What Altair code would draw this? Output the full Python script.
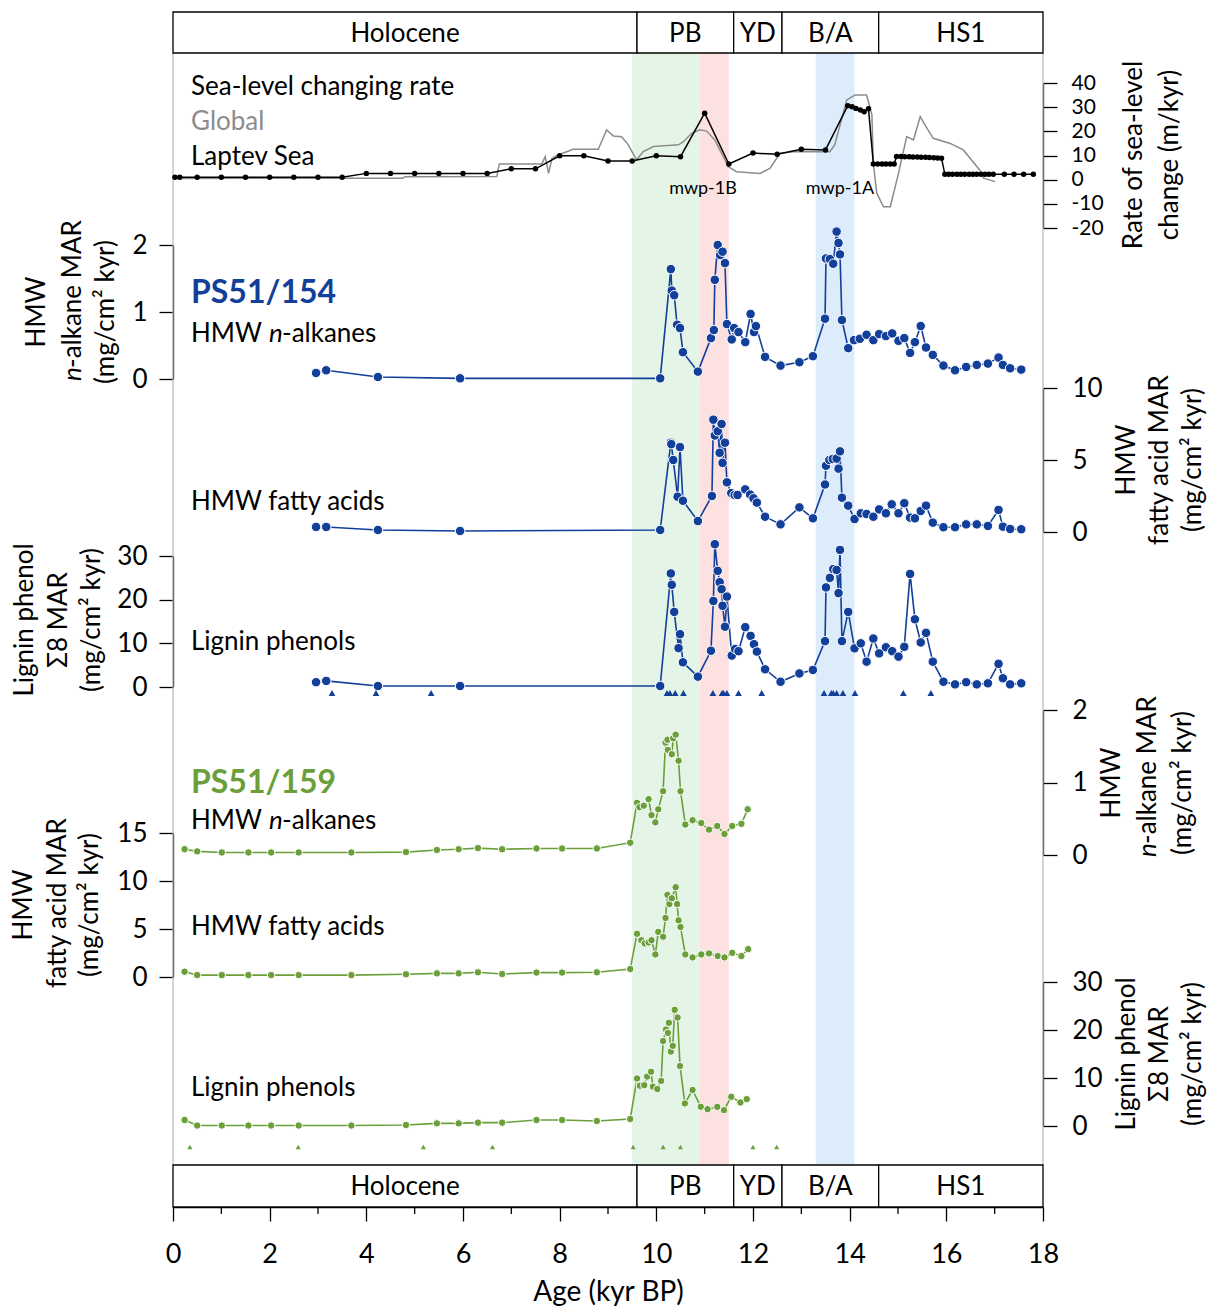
import altair as alt
import pandas as pd

# ---------------- data ----------------
strat_names = ["Holocene", "PB", "YD", "B/A", "HS1"]
strat_start = [0, 9.6, 11.6, 12.6, 14.6]
strat_end = [9.6, 11.6, 12.6, 14.6, 18]

band_names = ["PB", "mwp-1B", "mwp-1A"]
band_start = [9.5, 10.9, 13.3]
band_end = [10.9, 11.5, 14.1]
band_colors = ["#e4f5e7", "#fde0e0", "#dcecfb"]

global_age = [0, 4.75, 4.8, 6.7, 6.75, 7.63, 7.70, 7.77, 7.84, 7.94, 8.28, 8.8, 8.97, 9.11, 9.28, 9.42,
              9.59, 9.73, 9.94, 10.46, 10.56, 10.73, 10.90, 11.04, 11.21, 11.49, 11.66, 12.15, 12.35,
              12.56, 12.83, 13.59, 13.69, 13.94, 14.11, 14.35, 14.46, 14.49, 14.56, 14.70, 14.84, 15.01,
              15.18, 15.32, 15.46, 15.56, 15.73, 16.08, 16.35, 16.69, 16.77, 17.01]
global_rate = [0.5, 0.6, 1.2, 1.3, 6.5, 6.5, 9.5, 2.6, 8.8, 10.0, 12.6, 12.6, 20.6, 18.1, 17.8, 14.4,
               8.2, 11.6, 13.7, 14.4, 15.7, 19.2, 20.6, 20.1, 16.4, 5.4, 3.3, 2.6, 4.7,
               10.9, 11.6, 11.6, 14.4, 33.0, 35.0, 35.0, 26.8, 6.8, -5.6, -11.2, -11.2, 2.6,
               17.8, 16.4, 26.1, 22.6, 17.1, 15.0, 12.3, 4.0, 0.6, -0.8]

laptev_age = [0.04, 0.14, 0.5, 1.0, 1.5, 2.0, 2.5, 3.0, 3.5, 4.0, 4.5, 5.0, 5.5, 6.0, 6.5, 7.0, 7.5,
              8.0, 8.5, 9.0, 9.5, 10.0, 10.5, 11.0, 11.5, 12.0, 12.5, 13.0, 13.5, 13.96, 14.05, 14.13,
              14.22, 14.30, 14.39, 14.49, 14.58, 14.67, 14.75, 14.84, 14.92, 14.97, 15.06, 15.14, 15.23,
              15.31, 15.40, 15.48, 15.57, 15.65, 15.74, 15.82, 15.90, 15.97, 16.05, 16.13, 16.22, 16.30,
              16.38, 16.47, 16.55, 16.63, 16.72, 16.80, 16.88, 16.97, 17.2, 17.4, 17.6, 17.8]
laptev_rate = [1.0, 1.0, 1.0, 1.0, 1.0, 1.0, 1.0, 1.0, 1.0, 2.6, 2.6, 2.6, 2.6, 2.6, 2.6, 4.5, 4.5,
               9.9, 9.9, 7.7, 7.7, 9.9, 9.5, 27.5, 6.5, 11.0, 10.5, 12.6, 12.3, 30.6, 30.2, 29.5,
               28.8, 28.1, 29.3, 6.5, 6.5, 6.5, 6.5, 6.5, 6.5, 9.6, 9.6, 9.5, 9.5,
               9.4, 9.4, 9.3, 9.3, 9.2, 9.1, 9.0, 8.9, 2.2, 2.2, 2.2, 2.2, 2.2,
               2.2, 2.2, 2.2, 2.2, 2.2, 2.2, 2.2, 2.2, 2.2, 2.2, 2.2, 2.2]

# PS51/154
a154_nalk = [2.96, 3.17, 4.24, 5.94, 10.08, 10.30, 10.32, 10.37, 10.43, 10.49, 10.55, 10.86, 11.13,
             11.19, 11.21, 11.27, 11.32, 11.37, 11.42, 11.46, 11.56, 11.61, 11.70, 11.84, 11.95, 12.02,
             12.06, 12.25, 12.57, 12.96, 13.24, 13.49, 13.51, 13.59, 13.66, 13.73, 13.77, 13.80, 13.84,
             13.97, 14.09, 14.21, 14.35, 14.49, 14.61, 14.75, 14.88, 15.01, 15.13, 15.25, 15.35, 15.47,
             15.58, 15.72, 15.94, 16.18, 16.41, 16.63, 16.86, 17.08, 17.17, 17.32, 17.55]
v154_nalk = [0.09, 0.13, 0.03, 0.01, 0.01, 1.64, 1.32, 1.25, 0.81, 0.76, 0.40, 0.11, 0.61,
             0.73, 1.48, 2.00, 1.85, 1.90, 1.73, 0.82, 0.59, 0.76, 0.70, 0.55, 0.97, 0.70,
             0.79, 0.33, 0.20, 0.25, 0.34, 0.90, 1.80, 1.79, 1.72, 2.20, 2.03, 1.86, 0.88,
             0.46, 0.58, 0.60, 0.66, 0.58, 0.67, 0.64, 0.68, 0.57, 0.61, 0.39, 0.55, 0.79,
             0.47, 0.36, 0.20, 0.13, 0.18, 0.21, 0.23, 0.32, 0.21, 0.16, 0.14]

a154_fa = [2.96, 3.17, 4.24, 5.94, 10.08, 10.30, 10.31, 10.35, 10.44, 10.49, 10.55, 10.86, 11.15,
           11.18, 11.21, 11.27, 11.31, 11.35, 11.37, 11.42, 11.46, 11.55, 11.62, 11.68, 11.84, 11.94,
           12.01, 12.08, 12.25, 12.57, 12.96, 13.24, 13.49, 13.51, 13.58, 13.65, 13.73, 13.77, 13.80,
           13.84, 13.97, 14.10, 14.23, 14.35, 14.49, 14.61, 14.75, 14.87, 15.01, 15.13, 15.25, 15.35,
           15.47, 15.58, 15.72, 15.94, 16.18, 16.41, 16.63, 16.86, 17.08, 17.17, 17.32, 17.55]
v154_fa = [0.35, 0.35, 0.14, 0.07, 0.14, 6.2, 6.1, 5.0, 2.45, 5.9, 2.17, 0.76, 2.5,
           7.8, 6.7, 7.0, 5.5, 7.5, 4.8, 6.2, 3.45, 2.7, 2.57, 2.57, 2.96, 2.6,
           2.34, 2.04, 1.06, 0.53, 1.71, 0.95, 3.3, 4.6, 5.0, 5.07, 5.1, 4.4, 5.6,
           2.38, 1.83, 0.9, 1.3, 1.25, 1.06, 1.57, 1.3, 1.92, 1.3, 2.0, 1.0, 0.95,
           1.46, 1.83, 0.65, 0.33, 0.33, 0.53, 0.53, 0.42, 1.53, 0.37, 0.21, 0.19]

a154_lig = [2.96, 3.17, 4.24, 5.94, 10.08, 10.30, 10.32, 10.37, 10.46, 10.49, 10.55, 10.86, 11.13,
            11.18, 11.21, 11.27, 11.31, 11.35, 11.37, 11.42, 11.46, 11.56, 11.63, 11.70, 11.84, 11.95,
            12.02, 12.08, 12.25, 12.57, 12.96, 13.24, 13.49, 13.51, 13.59, 13.66, 13.73, 13.77, 13.80,
            13.84, 13.97, 14.10, 14.23, 14.35, 14.49, 14.61, 14.75, 14.88, 15.01, 15.13, 15.25, 15.35,
            15.47, 15.58, 15.72, 15.94, 16.18, 16.41, 16.63, 16.86, 17.08, 17.17, 17.32, 17.55]
v154_lig = [1.1, 1.4, 0.23, 0.23, 0.23, 26.0, 23.4, 17.2, 8.9, 12.1, 5.65, 2.37, 8.3,
            19.7, 32.7, 26.6, 24.0, 22.4, 18.6, 13.8, 20.7, 7.2, 8.7, 8.2, 13.7, 11.7,
            9.8, 8.1, 4.05, 1.2, 3.1, 3.9, 10.5, 22.8, 25.0, 27.0, 26.8, 21.5, 31.4,
            10.5, 17.2, 8.85, 10.0, 5.8, 11.1, 7.7, 9.1, 8.2, 6.95, 9.2, 25.9, 15.5,
            10.2, 12.4, 5.8, 1.2, 0.6, 1.1, 0.6, 0.85, 5.3, 2.0, 0.6, 0.85]

tri154 = [3.29, 4.2, 5.34, 10.22, 10.28, 10.39, 10.56, 11.17, 11.36, 11.39, 11.46, 11.70, 12.18,
          13.47, 13.62, 13.66, 13.73, 13.86, 14.11, 15.11, 15.68]

# PS51/159
early159 = [0.24, 0.5, 1.01, 1.56, 2.03, 2.6, 3.69, 4.82, 5.46, 5.91, 6.31, 6.81, 7.52, 8.05, 8.77, 9.46]

a159_nalk = early159 + [9.60, 9.65, 9.74, 9.84, 9.90, 9.98, 10.04, 10.14, 10.19, 10.23, 10.24, 10.32,
                        10.35, 10.40, 10.46, 10.50, 10.60, 10.75, 10.93, 11.09, 11.26, 11.41, 11.57,
                        11.76, 11.89]
v159_nalk = [0.08, 0.05, 0.035, 0.035, 0.035, 0.035, 0.035, 0.04, 0.07, 0.08, 0.095, 0.08, 0.09,
             0.09, 0.09, 0.17,
             0.72, 0.66, 0.68, 0.77, 0.55, 0.45, 0.63, 0.88, 1.55, 1.59, 1.45, 1.39,
             1.61, 1.66, 1.30, 0.88, 0.42, 0.48, 0.44, 0.35, 0.40, 0.29, 0.40, 0.43, 0.63]

a159_fa = early159 + [9.60, 9.69, 9.76, 9.84, 9.90, 9.98, 10.04, 10.14, 10.19, 10.23, 10.27, 10.32,
                      10.40, 10.43, 10.46, 10.50, 10.60, 10.75, 10.93, 11.09, 11.27, 11.41, 11.57,
                      11.76, 11.90]
v159_fa = [0.55, 0.2, 0.2, 0.2, 0.2, 0.2, 0.2, 0.28, 0.38, 0.38, 0.49, 0.31, 0.46, 0.46, 0.49, 0.83,
           4.5, 3.83, 3.5, 3.6, 3.83, 2.35, 4.7, 4.2, 6.15, 8.56, 7.6, 8.2,
           9.35, 7.6, 5.9, 5.2, 2.35, 2.04, 2.35, 2.46, 2.18, 2.04, 2.52, 2.18, 2.9]

a159_lig = early159 + [9.60, 9.66, 9.75, 9.81, 9.89, 9.93, 10.02, 10.10, 10.14, 10.20, 10.24, 10.26,
                       10.30, 10.34, 10.38, 10.44, 10.49, 10.59, 10.75, 10.92, 11.06, 11.26, 11.40,
                       11.55, 11.74, 11.87]
v159_lig = [1.25, 0.1, 0.1, 0.1, 0.1, 0.1, 0.1, 0.2, 0.55, 0.55, 0.7, 0.7, 1.25, 1.25, 1.04, 1.46,
            9.9, 8.4, 8.5, 10.3, 11.3, 8.2, 7.7, 9.4, 17.7, 20.1, 19.4, 21.5,
            15.5, 16.7, 24.2, 22.6, 12.5, 4.7, 7.5, 4.0, 3.5, 4.0, 3.3, 6.1, 4.9, 5.6]

tri159 = [0.35, 2.59, 5.18, 6.61, 9.52, 10.14, 10.50, 12.0, 12.49]

minor_ticks = [1, 3, 5, 7, 9, 11, 13, 15, 17]

# ---------------- layout helpers ----------------
X0, Y0 = 173, 12
W, H = 870, 1195
FONT = "Lato"
BLUE = "#123f99"
GREEN = "#6a9f3a"
GRAY = "#8c8c8c"


def px(x):
    return x - X0


def py(y):
    return y - Y0


XS = alt.Scale(domain=[0, 18], nice=False, zero=False)
XAX = alt.Axis(values=list(range(0, 19, 2)), tickSize=14, labelFontSize=27, labelPadding=20,
               labelFlush=False, labelOverlap=False, title="Age (kyr BP)", titleFontSize=28,
               titleFontWeight="normal", titleY=93, titleBaseline="alphabetic",
               domainWidth=1.3, tickWidth=1.3, grid=False, labelExpr="toString(datum.value)")


def X(field):
    return alt.X(field, type="quantitative", scale=XS, axis=XAX)


def yaxis(orient, values, size=26, pad=12):
    return alt.Axis(orient=orient, values=values, title=None, tickSize=14, labelFontSize=size,
                    labelPadding=pad, labelFlush=False, labelOverlap=False, domainWidth=1.3,
                    tickWidth=1.3, grid=False, labelExpr="toString(datum.value)")


def yscale(dom, ybot, ytop):
    return alt.Scale(domain=dom, range=[py(ybot), py(ytop)], nice=False, zero=False)


DUMMY = pd.DataFrame({"d": [0]})


def txt(s, x, y, size=26, color="black", angle=0, align="left", weight="normal", style="normal"):
    return alt.Chart(DUMMY).mark_text(text=s, font=FONT, fontSize=size, color=color, angle=angle,
                                      align=align, baseline="middle", fontWeight=weight,
                                      fontStyle=style).encode(x=alt.value(px(x)), y=alt.value(py(y)))


layers = []

# shaded bands
bands = pd.DataFrame({"name": band_names, "start": band_start, "end": band_end})
layers.append(alt.Chart(bands).mark_rect(opacity=1).encode(
    x=X("start"), x2="end", y=alt.value(py(53)), y2=alt.value(py(1165)),
    color=alt.Color("name:N", scale=alt.Scale(domain=band_names, range=band_colors), legend=None)))

# frame lines
for fx in (0, W):
    layers.append(alt.Chart(DUMMY).mark_rule(color="#b8b8b8", strokeWidth=1.2).encode(
        x=alt.value(fx), y=alt.value(py(53)), y2=alt.value(py(1165))))

# stratigraphy boxes
strat = pd.DataFrame({"name": strat_names, "start": strat_start, "end": strat_end})
strat["mid"] = (strat["start"] + strat["end"]) / 2
for (yt, yb) in ((12, 53), (1165, 1207)):
    layers.append(alt.Chart(strat).mark_rect(fill="white", stroke="black", strokeWidth=1.3).encode(
        x=X("start"), x2="end", y=alt.value(py(yt)), y2=alt.value(py(yb))))
    layers.append(alt.Chart(strat).mark_text(font=FONT, fontSize=26, color="black", baseline="middle").encode(
        x=X("mid"), y=alt.value(py((yt + yb) / 2 + 1)), text="name:N"))

# minor x ticks
layers.append(alt.Chart(pd.DataFrame({"m": minor_ticks})).mark_rule(color="black", strokeWidth=1.3).encode(
    x=X("m"), y=alt.value(py(1207)), y2=alt.value(py(1214))))

# sea level
sea_scale = yscale([-20, 40], 228, 83)
gl = pd.DataFrame({"age": global_age, "v": global_rate})
layers.append(alt.Chart(gl).mark_line(color=GRAY, strokeWidth=1.5).encode(
    x=X("age"), y=alt.Y("v:Q", scale=sea_scale,
                        axis=yaxis("right", list(range(-20, 41, 10)), size=21, pad=14))))
lp = pd.DataFrame({"age": laptev_age, "v": laptev_rate})
layers.append(alt.Chart(lp).mark_line(color="black", strokeWidth=1.5,
                                      point=alt.OverlayMarkDef(filled=True, fill="black", size=30, opacity=1)).encode(
    x=X("age"), y=alt.Y("v:Q", scale=sea_scale, axis=None)))


def series(ages, vals, dom, ybot, ytop, color, size, axis):
    df = pd.DataFrame({"age": ages, "v": vals})
    return alt.Chart(df).mark_line(
        color=color, strokeWidth=1.6,
        point=alt.OverlayMarkDef(filled=True, fill=color, size=size, stroke="white", strokeWidth=1, opacity=1)
    ).encode(x=X("age"), y=alt.Y("v:Q", scale=yscale(dom, ybot, ytop), axis=axis))


layers.append(series(a154_nalk, v154_nalk, [0, 2], 379, 245, BLUE, 90, yaxis("left", [0, 1, 2])))
layers.append(series(a154_fa, v154_fa, [0, 10], 532, 388, BLUE, 90, yaxis("right", [0, 5, 10], pad=15)))
layers.append(series(a154_lig, v154_lig, [0, 30], 687, 556, BLUE, 90, yaxis("left", [0, 10, 20, 30])))
layers.append(series(a159_nalk, v159_nalk, [0, 2], 855, 710, GREEN, 56, yaxis("right", [0, 1, 2], pad=15)))
layers.append(series(a159_fa, v159_fa, [0, 15], 977, 833, GREEN, 56, yaxis("left", [0, 5, 10, 15])))
layers.append(series(a159_lig, v159_lig, [0, 30], 1126, 982, GREEN, 56, yaxis("right", [0, 10, 20, 30], pad=15)))

# sample triangles
layers.append(alt.Chart(pd.DataFrame({"age": tri154})).mark_point(
    shape="triangle-up", filled=True, size=45, color=BLUE, opacity=1).encode(x=X("age"), y=alt.value(py(693))))
layers.append(alt.Chart(pd.DataFrame({"age": tri159})).mark_point(
    shape="triangle-up", filled=True, size=26, color=GREEN, opacity=1).encode(x=X("age"), y=alt.value(py(1147))))

# in-plot labels
layers += [
    txt("Sea-level changing rate", 191, 87),
    txt("Global", 191, 122, color=GRAY),
    txt("Laptev Sea", 191, 157),
    txt("mwp-1B", 703, 189, size=18, align="center"),
    txt("mwp-1A", 840, 189, size=18, align="center"),
    txt("PS51/154", 191, 293, size=32, color=BLUE, weight="bold"),
    txt("HMW", 191, 334), txt("n", 269, 334, style="italic"), txt("-alkanes", 282, 334),
    txt("HMW fatty acids", 191, 502),
    txt("Lignin phenols", 191, 642),
    txt("PS51/159", 191, 783, size=32, color=GREEN, weight="bold"),
    txt("HMW", 191, 821), txt("n", 269, 821, style="italic"), txt("-alkanes", 282, 821),
    txt("HMW fatty acids", 191, 927),
    txt("Lignin phenols", 191, 1088),
]

# rotated axis titles
R = 270
UNIT = "(mg/cm\u00b2 kyr)"
layers += [
    # left PS51/154 n-alkanes
    txt("HMW", 37, 312, angle=R, align="center"),
    txt("n", 73, 381, angle=R, style="italic"), txt("-alkane MAR", 73, 368, angle=R),
    txt(UNIT, 106, 312, angle=R, align="center"),
    # left PS51/154 lignin
    txt("Lignin phenol", 25, 620, angle=R, align="center"),
    txt("\u03a38 MAR", 59, 620, angle=R, align="center"),
    txt(UNIT, 92, 620, angle=R, align="center"),
    # left PS51/159 fatty acids
    txt("HMW", 24, 905, angle=R, align="center"),
    txt("fatty acid MAR", 58, 903, angle=R, align="center"),
    txt(UNIT, 90, 905, angle=R, align="center"),
    # right sea level
    txt("Rate of sea-level", 1134, 155, angle=R, align="center"),
    txt("change (m/kyr)", 1170, 155, angle=R, align="center"),
    # right PS51/154 fatty acids
    txt("HMW", 1127, 460, angle=R, align="center"),
    txt("fatty acid MAR", 1160, 460, angle=R, align="center"),
    txt(UNIT, 1193, 460, angle=R, align="center"),
    # right PS51/159 n-alkanes
    txt("HMW", 1112, 783, angle=R, align="center"),
    txt("n", 1148, 857, angle=R, style="italic"), txt("-alkane MAR", 1148, 844, angle=R),
    txt(UNIT, 1183, 783, angle=R, align="center"),
    # right PS51/159 lignin
    txt("Lignin phenol", 1127, 1054, angle=R, align="center"),
    txt("\u03a38 MAR", 1160, 1054, angle=R, align="center"),
    txt(UNIT, 1193, 1054, angle=R, align="center"),
]

chart = alt.layer(*layers).resolve_scale(y="independent").resolve_axis(y="independent").properties(
    width=W, height=H,
    autosize=alt.AutoSizeParams(type="none"),
    padding={"left": X0, "top": Y0, "right": 1210 - X0 - W, "bottom": 1306 - Y0 - H},
).configure_view(stroke=None).configure_axis(
    labelFont=FONT, titleFont=FONT, labelColor="black", titleColor="black",
    domainColor="black", tickColor="black", grid=False,
).configure_text(font=FONT)

chart.save("out.html", embed_options={"renderer": "svg", "actions": False})
